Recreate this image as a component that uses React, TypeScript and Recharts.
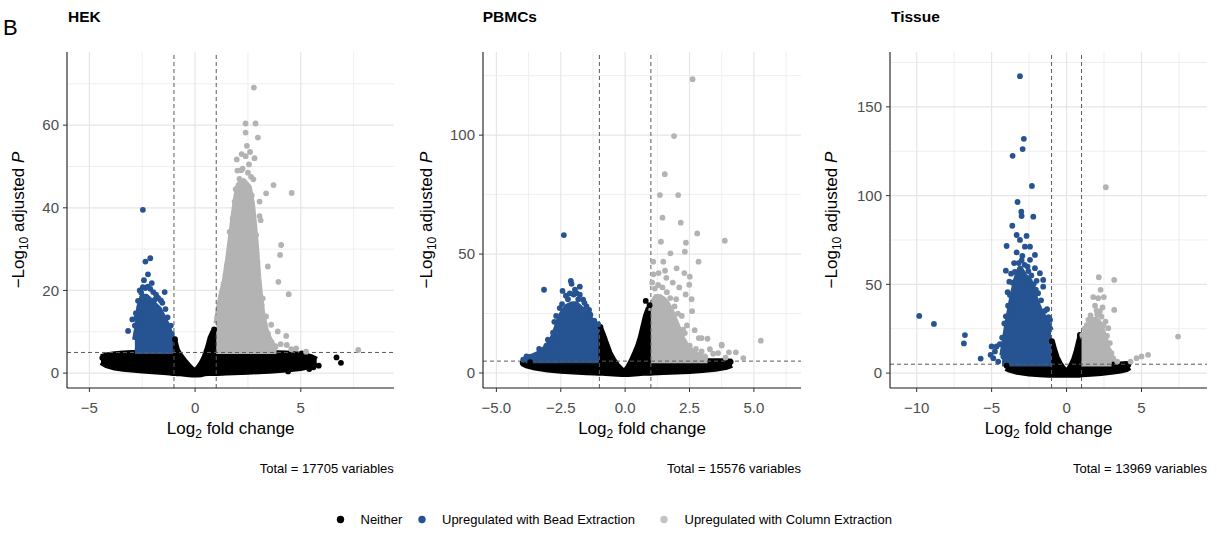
import React from 'react';
import {
  ComposedChart, XAxis, YAxis, Area, Scatter, ReferenceLine, CartesianGrid,
} from 'recharts';

const FONT = '"Liberation Sans", Arial, Helvetica, sans-serif';
const NEITHER = '#000000';
const BEAD = '#265391';
const COLUMN = '#b3b3b3';
const GRID_MAJOR = '#e6e6e6';
const GRID_MINOR = '#efefef';
const CUT = '#5a5a5a';

type Band = [number, number, number]; // log2FC, lowest, highest -log10 p of the dense cloud
type Pt = [number, number];

// ---------- HEK ----------
const hekNeitherBand: Band[] = [
  [-4.45, 2.6, 3.9], [-4.2, 1.9, 4.3], [-3.8, 1.3, 4.6], [-3.4, 1.0, 4.8],
  [-3.0, 0.8, 4.9], [-2.5, 0.6, 4.9], [-2.0, 0.4, 4.9], [-1.5, 0.2, 4.9],
  [-1.2, 0.1, 5.4], [-1.05, 0.0, 7.0], [-0.95, 0.0, 7.6], [-0.85, -0.1, 5.6],
  [-0.7, -0.1, 4.3], [-0.5, -0.2, 3.0], [-0.3, -0.3, 1.8], [-0.12, -0.4, 0.9],
  [0.0, -0.4, 0.5], [0.12, -0.4, 1.1], [0.3, -0.3, 2.4], [0.45, -0.1, 4.0],
  [0.6, 0.0, 6.2], [0.72, 0.0, 8.5], [0.85, 0.0, 10.0], [0.98, 0.0, 10.4],
  [1.06, 0.0, 5.3], [1.5, 0.1, 5.0], [2.5, 0.3, 5.0], [3.5, 0.5, 4.9],
  [4.3, 0.8, 4.8], [5.0, 1.2, 4.5], [5.5, 1.8, 3.9], [5.75, 2.4, 3.3],
];
const hekBeadBand: Band[] = [
  [-2.85, 5.3, 8], [-2.75, 5.3, 11], [-2.65, 5.3, 16], [-2.5, 5.3, 18.5],
  [-2.3, 5.3, 18.5], [-2.1, 5.3, 17.5], [-1.9, 5.3, 16.5], [-1.7, 5.3, 15.5],
  [-1.5, 5.3, 13.5], [-1.35, 5.3, 12], [-1.2, 5.3, 10], [-1.05, 5.3, 8],
];
const hekColumnBand: Band[] = [
  [1.0, 5.3, 12], [1.1, 5.3, 15], [1.2, 5.3, 18], [1.4, 5.3, 22.5],
  [1.55, 5.3, 27.5], [1.7, 5.3, 33.5], [1.85, 5.3, 39.5], [1.95, 5.3, 43],
  [2.05, 5.3, 45.5], [2.3, 5.3, 46.5], [2.55, 5.3, 45], [2.7, 5.3, 41],
  [2.8, 5.3, 36], [2.9, 5.3, 30], [3.0, 5.3, 23], [3.1, 5.3, 18],
  [3.2, 5.3, 14], [3.35, 5.3, 10.5], [3.5, 5.3, 8.5], [3.7, 5.3, 6.5],
  [3.85, 5.3, 5.6],
];
const hekNeitherPts: Pt[] = [
  [4.4, 0.4], [5.4, 1.0], [5.6, 1.4], [5.85, 1.8], [6.69, 3.8], [6.9, 2.5],
  [5.05, 4.8], [5.45, 3.7], [-4.39, 3.7], [-4.15, 3.3], [-0.95, 8.2], [0.9, 10.6],
];
const hekBeadPts: Pt[] = [
  [-2.47, 39.5], [-2.35, 27.0], [-2.12, 27.8], [-2.23, 23.9], [-3.17, 10.2],
  [-2.97, 13.0], [-2.78, 13.3], [-2.47, 20.8], [-2.36, 20.6], [-2.24, 20.9],
  [-2.12, 20.4], [-1.98, 19.6], [-1.85, 19.0], [-1.44, 19.6], [-1.62, 17.6],
  [-1.55, 17.0], [-1.75, 18.2], [-2.62, 20.0], [-2.7, 17.5], [-2.8, 14.5],
  [-2.85, 11.5], [-1.3, 13.5], [-1.15, 11.5], [-1.1, 9.5], [-1.4, 15.5],
  [-2.42, 22.5], [-2.05, 21.8], [-1.9, 17.8], [-2.55, 19.5], [-1.25, 10.5],
];
const hekColumnPts: Pt[] = [
  [2.78, 69.1], [2.39, 60.4], [2.86, 60.4], [2.39, 58.2], [2.97, 57.0],
  [1.97, 51.7], [2.39, 52.5], [2.81, 52.0], [2.18, 49.1], [2.76, 46.9],
  [3.71, 45.5], [3.36, 43.5], [4.57, 43.6], [3.05, 41.5], [1.87, 41.5],
  [3.05, 38.0], [3.1, 37.0], [1.63, 34.2], [2.89, 33.4], [2.81, 29.8],
  [4.07, 31.0], [4.02, 28.6], [3.44, 25.8], [3.94, 22.1], [4.43, 19.1],
  [3.2, 18.1], [3.05, 15.3], [3.36, 13.7], [3.6, 11.7], [3.91, 10.1],
  [4.31, 9.0], [4.34, 6.8], [4.78, 6.0], [5.25, 5.2], [7.72, 5.6],
  [2.0, 49.0], [2.25, 49.5], [2.5, 48.5], [2.65, 47.5], [2.55, 50.5],
  [2.45, 55.0], [2.6, 53.5], [2.2, 53.0], [2.1, 47.0], [1.92, 44.5],
  [2.68, 43.0], [1.78, 37.5], [2.95, 27.0], [3.0, 21.0], [1.5, 26.0],
  [1.35, 21.5], [1.15, 16.5], [1.05, 13.5], [3.15, 16.5], [3.28, 12.0],
  [3.45, 9.5], [3.62, 7.5], [4.05, 7.0], [3.8, 6.5], [4.55, 5.8],
];

// ---------- PBMCs ----------
const pbmcNeitherBand: Band[] = [
  [-4.0, 4.0, 5.0], [-3.8, 3.0, 5.0], [-3.5, 2.2, 5.0], [-3.0, 1.4, 5.0],
  [-2.5, 0.9, 5.0], [-2.0, 0.5, 5.0], [-1.5, 0.2, 5.0], [-1.2, 0.1, 6.0],
  [-1.06, 0.0, 14.0], [-0.96, 0.0, 19.0], [-0.85, 0.0, 16.0], [-0.75, -0.1, 13.0],
  [-0.6, -0.2, 8.5], [-0.45, -0.3, 5.5], [-0.3, -0.4, 3.2], [-0.12, -0.5, 1.2],
  [0.0, -0.5, 0.8], [0.12, -0.5, 2.6], [0.25, -0.4, 5.2], [0.38, -0.3, 8.4],
  [0.5, -0.2, 11.5], [0.6, -0.1, 15.0], [0.7, 0.0, 19.5], [0.8, 0.0, 24.0],
  [0.9, 0.0, 27.0], [0.99, 0.0, 27.5], [1.06, 0.1, 6.0], [1.5, 0.3, 5.0],
  [2.0, 0.5, 5.0], [2.5, 0.8, 5.0], [3.0, 1.2, 5.0], [3.5, 1.7, 5.0],
  [3.9, 2.4, 5.0], [4.15, 3.3, 4.8],
];
const pbmcBeadBand: Band[] = [
  [-3.9, 5.3, 6.3], [-3.6, 5.3, 7.0], [-3.3, 5.3, 8.5], [-3.05, 5.3, 11],
  [-2.85, 5.3, 14], [-2.7, 5.3, 18], [-2.55, 5.3, 23], [-2.4, 5.3, 26],
  [-2.25, 5.3, 28], [-2.05, 5.3, 29], [-1.9, 5.3, 29], [-1.7, 5.3, 27],
  [-1.5, 5.3, 25], [-1.3, 5.3, 22], [-1.15, 5.3, 20], [-1.03, 5.3, 18],
];
const pbmcColumnBand: Band[] = [
  [1.0, 5.3, 26], [1.08, 5.3, 30], [1.2, 5.3, 32], [1.35, 5.3, 32],
  [1.5, 5.3, 31], [1.65, 5.3, 29], [1.8, 5.3, 26], [1.95, 5.3, 22],
  [2.1, 5.3, 18], [2.25, 5.3, 14], [2.4, 5.3, 11.5], [2.55, 5.3, 9.5],
  [2.75, 5.3, 8], [3.0, 5.3, 6.5], [3.2, 5.3, 5.8],
];
const pbmcNeitherPts: Pt[] = [
  [0.8, 30.3], [-0.96, 19.4], [-3.69, 4.6], [-3.98, 4.2], [4.1, 4.7], [0.95, 28.5],
];
const pbmcBeadPts: Pt[] = [
  [-2.38, 58.0], [-3.15, 35.0], [-2.43, 34.5], [-2.11, 38.7], [-2.08, 37.5],
  [-1.76, 36.3], [-1.76, 32.9], [-1.89, 33.6], [-2.54, 27.3], [-2.22, 31.0],
  [-1.63, 30.8], [-3.34, 10.1], [-3.06, 11.5], [-3.96, 5.6], [-3.83, 7.0],
  [-2.6, 19.6], [-2.6, 16.8], [-2.65, 14.0], [-2.86, 7.7], [-3.25, 7.0],
  [-2.3, 32.5], [-2.0, 33.0], [-1.5, 28.0], [-1.35, 24.5], [-1.2, 22.0],
  [-2.75, 21.5], [-2.9, 12.5], [-3.5, 6.2], [-1.05, 20.5], [-1.95, 35.0],
  [-2.45, 29.0], [-2.15, 33.5], [-1.82, 31.0], [-1.58, 29.5], [-2.68, 24.0],
  [-2.8, 17.0], [-3.0, 14.0], [-1.4, 26.5], [-1.12, 17.5], [-3.2, 9.5],
];
const pbmcColumnPts: Pt[] = [
  [2.62, 123.5], [1.9, 99.6], [1.54, 83.6], [1.35, 74.8], [2.06, 74.8],
  [1.45, 65.3], [2.16, 63.2], [2.8, 58.7], [3.87, 55.6], [1.39, 55.2],
  [2.36, 54.8], [2.32, 51.0], [2.85, 46.8], [1.09, 46.8], [1.48, 46.8],
  [1.76, 50.3], [2.51, 40.5], [2.49, 37.1], [2.58, 31.0], [2.25, 18.2],
  [2.97, 14.7], [3.75, 11.9], [4.03, 8.7], [4.3, 8.7], [4.59, 6.3],
  [5.27, 13.6], [2.86, 14.7], [3.2, 14.4], [3.75, 11.6], [2.32, 16.8],
  [2.51, 11.5], [2.75, 10.1], [2.97, 9.1], [3.29, 10.0], [3.42, 8.1],
  [3.61, 8.4], [2.0, 44.0], [2.3, 42.0], [1.3, 42.0], [1.6, 40.0],
  [1.85, 38.0], [2.1, 36.0], [2.35, 33.0], [2.6, 26.0], [1.05, 38.0],
  [2.2, 24.0], [2.4, 20.0], [2.7, 18.0], [3.1, 7.0], [3.9, 6.5],
  [1.15, 35.5], [1.28, 37.0], [1.45, 36.0], [1.62, 34.0], [1.75, 31.5],
  [1.92, 28.0], [2.05, 25.0], [1.1, 41.5], [1.55, 43.0], [1.98, 31.0],
];

// ---------- Tissue ----------
const tissueNeitherBand: Band[] = [
  [-4.05, 2.8, 4.8], [-3.8, 1.8, 5.0], [-3.3, 0.6, 5.0], [-2.5, -0.3, 5.0],
  [-1.8, -0.8, 5.0], [-1.2, -1.0, 6.0], [-1.06, -1.0, 13.0], [-0.95, -1.0, 17.5],
  [-0.82, -1.0, 13.5], [-0.65, -1.0, 9.0], [-0.45, -1.0, 5.5], [-0.25, -1.0, 3.0],
  [-0.08, -1.0, 1.3], [0.0, -1.0, 0.9], [0.1, -1.0, 1.6], [0.3, -1.0, 4.2],
  [0.5, -1.0, 8.0], [0.65, -1.0, 12.0], [0.78, -1.0, 16.5], [0.9, -1.0, 20.5],
  [0.99, -0.8, 21.5], [1.06, -0.8, 6.0], [1.6, -0.5, 5.0], [2.3, 0.0, 5.0],
  [3.0, 0.6, 5.0], [3.6, 1.3, 5.0], [4.0, 2.1, 5.2], [4.22, 3.2, 4.8],
];
const tissueBeadBand: Band[] = [
  [-4.3, 5.3, 10], [-4.15, 5.3, 18], [-4.0, 5.3, 26], [-3.85, 5.3, 33],
  [-3.7, 5.3, 40], [-3.55, 5.3, 46], [-3.4, 5.3, 52], [-3.25, 5.3, 56],
  [-3.1, 5.3, 59], [-2.95, 5.3, 57], [-2.8, 5.3, 55], [-2.6, 5.3, 53],
  [-2.45, 5.3, 52], [-2.3, 5.3, 48], [-2.15, 5.3, 44], [-2.0, 5.3, 40],
  [-1.8, 5.3, 36], [-1.6, 5.3, 33], [-1.4, 5.3, 30], [-1.2, 5.3, 27],
  [-1.03, 5.3, 24],
];
const tissueColumnBand: Band[] = [
  [1.0, 5.3, 19], [1.15, 5.3, 21], [1.33, 5.3, 24], [1.5, 5.3, 27],
  [1.65, 5.3, 29], [1.8, 5.3, 30], [2.0, 5.3, 30], [2.2, 5.3, 28],
  [2.4, 5.3, 24], [2.6, 5.3, 19], [2.75, 5.3, 14], [2.9, 5.3, 10],
  [3.0, 5.3, 7],
];
const tissueNeitherPts: Pt[] = [
  [0.89, 21.5], [-0.98, 18.0], [4.12, 4.7], [-4.0, 4.2],
];
const tissueBeadPts: Pt[] = [
  [-3.11, 167.3], [-2.85, 132.0], [-2.93, 126.2], [-3.6, 122.4], [-2.31, 105.4],
  [-3.27, 96.4], [-3.02, 90.9], [-3.0, 88.5], [-2.22, 88.1], [-3.62, 83.0],
  [-3.33, 77.8], [-2.67, 77.3], [-4.0, 71.6], [-4.05, 57.7], [-3.82, 51.5],
  [-3.93, 45.6], [-3.49, 41.2], [-9.83, 32.2], [-8.85, 27.7], [-6.78, 21.4],
  [-6.85, 16.7], [-5.73, 8.2], [-5.0, 15.0], [-4.67, 15.0], [-4.78, 12.2],
  [-4.45, 16.3], [-4.22, 9.3], [-4.89, 8.4], [-4.56, 6.5], [-5.07, 10.3],
  [-3.11, 75.0], [-2.78, 71.2], [-2.44, 71.2], [-2.11, 66.6], [-2.44, 63.8],
  [-2.11, 59.1], [-1.78, 56.3], [-1.56, 52.5], [-1.56, 48.7], [-3.33, 68.0],
  [-2.95, 66.0], [-3.5, 62.0], [-3.7, 56.0], [-1.9, 45.0], [-1.3, 36.0],
  [-1.1, 30.0], [-4.15, 28.0], [-4.3, 20.0], [-2.6, 60.0], [-2.0, 52.0],
  [-3.2, 62.0], [-3.0, 63.5], [-2.8, 61.0], [-2.55, 57.5], [-2.35, 55.0],
  [-3.45, 57.0], [-3.62, 51.0], [-3.78, 44.0], [-2.2, 50.0], [-1.7, 41.0],
  [-1.45, 35.0], [-1.2, 31.5], [-4.05, 32.0], [-3.9, 38.0], [-2.05, 47.0],
];
const tissueColumnPts: Pt[] = [
  [2.62, 104.7], [2.15, 54.0], [3.18, 52.5], [2.27, 46.9], [1.78, 42.8],
  [2.11, 42.2], [2.49, 42.8], [3.18, 35.6], [2.0, 35.2], [2.22, 34.7],
  [2.78, 25.3], [7.44, 20.6], [5.44, 10.3], [5.0, 9.4], [4.67, 8.4],
  [4.27, 6.5], [3.38, 6.5], [1.78, 30.0], [2.33, 31.8], [2.89, 16.9],
  [3.0, 11.3], [3.11, 8.4], [1.9, 38.0], [2.4, 37.0], [2.6, 29.0],
  [1.45, 30.0], [1.2, 25.0], [2.7, 21.0], [1.6, 32.5], [2.05, 33.0],
  [2.45, 27.0], [1.05, 21.5], [1.35, 27.0], [2.85, 12.5],
];

// ---------- axes ----------
const hekXTicks = [-5, 0, 5];
const hekXMinor = [-2.5, 2.5, 7.5];
const hekYTicks = [0, 20, 40, 60];
const hekYMinor = [10, 30, 50, 70];

const pbmcXTicks = [-5, -2.5, 0, 2.5, 5];
const pbmcXMinor = [-3.75, -1.25, 1.25, 3.75, 6.25];
const pbmcYTicks = [0, 50, 100];
const pbmcYMinor = [25, 75, 125];

const tissueXTicks = [-10, -5, 0, 5];
const tissueXMinor = [-7.5, -2.5, 2.5, 7.5];
const tissueYTicks = [0, 50, 100, 150];
const tissueYMinor = [25, 75, 125, 175];

const fcCutoffs = [-1, 1];
const pCutoff = 5;

const fmtInt = (v: number) => (v < 0 ? `\u2212${Math.abs(v)}` : `${v}`);
const fmtOne = (v: number) => (v < 0 ? `\u2212${Math.abs(v).toFixed(1)}` : v.toFixed(1));

const toBand = (rows: Band[]) => rows.map(([x, lo, hi]) => ({ x, band: [lo, hi] }));
const toPts = (rows: Pt[]) => rows.map(([x, y]) => ({ x, y }));

const dot = (color: string) => (p: any) => (
  <circle cx={p.cx} cy={p.cy} r={2.9} fill={color} />
);

interface PanelSpec {
  left: number;
  width: number;
  yAxisWidth: number;
  marginRight: number;
  xDomain: [number, number];
  yDomain: [number, number];
  xTicks: number[];
  xMinor: number[];
  yTicks: number[];
  yMinor: number[];
  fmtX: (v: number) => string;
  neitherBand: Band[];
  beadBand: Band[];
  columnBand: Band[];
  neitherPts: Pt[];
  beadPts: Pt[];
  columnPts: Pt[];
}

const panels: PanelSpec[] = [
  {
    left: 0, width: 400, yAxisWidth: 67, marginRight: 6,
    xDomain: [-6.06, 9.41], yDomain: [-3.6, 77.7],
    xTicks: hekXTicks, xMinor: hekXMinor, yTicks: hekYTicks, yMinor: hekYMinor,
    fmtX: fmtInt,
    neitherBand: hekNeitherBand, beadBand: hekBeadBand, columnBand: hekColumnBand,
    neitherPts: hekNeitherPts, beadPts: hekBeadPts, columnPts: hekColumnPts,
  },
  {
    left: 410, width: 395, yAxisWidth: 73, marginRight: 4,
    xDomain: [-5.52, 6.83], yDomain: [-6.3, 134.95],
    xTicks: pbmcXTicks, xMinor: pbmcXMinor, yTicks: pbmcYTicks, yMinor: pbmcYMinor,
    fmtX: fmtOne,
    neitherBand: pbmcNeitherBand, beadBand: pbmcBeadBand, columnBand: pbmcColumnBand,
    neitherPts: pbmcNeitherPts, beadPts: pbmcBeadPts, columnPts: pbmcColumnPts,
  },
  {
    left: 810, width: 400, yAxisWidth: 80, marginRight: 3,
    xDomain: [-11.78, 9.37], yDomain: [-8.4, 180.9],
    xTicks: tissueXTicks, xMinor: tissueXMinor, yTicks: tissueYTicks, yMinor: tissueYMinor,
    fmtX: fmtInt,
    neitherBand: tissueNeitherBand, beadBand: tissueBeadBand, columnBand: tissueColumnBand,
    neitherPts: tissueNeitherPts, beadPts: tissueBeadPts, columnPts: tissueColumnPts,
  },
];

const cloud = (rows: Band[], color: string, key: string) => (
  <Area
    key={key}
    data={toBand(rows)}
    dataKey="band"
    type="linear"
    fill={color}
    fillOpacity={1}
    stroke={color}
    strokeWidth={5.6}
    strokeLinejoin="round"
    dot={false}
    activeDot={false}
    isAnimationActive={false}
  />
);

function VolcanoPanel({ spec }: { spec: PanelSpec }) {
  const axisTick = { fill: '#4d4d4d', fontSize: 15, fontFamily: FONT };
  return (
    <div style={{ position: 'absolute', left: spec.left, top: 0 }}>
      <ComposedChart
        width={spec.width}
        height={420}
        margin={{ top: 52, right: spec.marginRight, bottom: 0, left: 0 }}
      >
        {/* minor grid first, major grid on top of it, both below the points */}
        <CartesianGrid
          horizontalValues={spec.yMinor}
          verticalValues={spec.xMinor}
          stroke={GRID_MINOR}
          strokeWidth={1}
        />
        <CartesianGrid
          horizontalValues={spec.yTicks}
          verticalValues={spec.xTicks}
          stroke={GRID_MAJOR}
          strokeWidth={1.2}
        />
        <XAxis
          type="number"
          dataKey="x"
          domain={spec.xDomain}
          ticks={spec.xTicks}
          interval={0}
          allowDataOverflow
          tickFormatter={spec.fmtX}
          tick={axisTick}
          tickSize={4}
          tickMargin={10}
          height={32}
          axisLine={{ stroke: '#1a1a1a', strokeWidth: 1.1 }}
          tickLine={{ stroke: '#333333' }}
        />
        <YAxis
          type="number"
          domain={spec.yDomain}
          ticks={spec.yTicks}
          interval={0}
          allowDataOverflow
          tick={axisTick}
          tickSize={4}
          tickMargin={4}
          width={spec.yAxisWidth}
          axisLine={{ stroke: '#1a1a1a', strokeWidth: 1.1 }}
          tickLine={{ stroke: '#333333' }}
        />

        {cloud(spec.neitherBand, NEITHER, 'nb')}
        <Scatter data={toPts(spec.neitherPts)} dataKey="y" shape={dot(NEITHER)} isAnimationActive={false} />
        {cloud(spec.beadBand, BEAD, 'bb')}
        <Scatter data={toPts(spec.beadPts)} dataKey="y" shape={dot(BEAD)} isAnimationActive={false} />
        {cloud(spec.columnBand, COLUMN, 'cb')}
        <Scatter data={toPts(spec.columnPts)} dataKey="y" shape={dot(COLUMN)} isAnimationActive={false} />

        {fcCutoffs.map((v) => (
          <ReferenceLine key={`fc${v}`} x={v} stroke={CUT} strokeWidth={1} strokeDasharray="4 3" />
        ))}
        <ReferenceLine y={pCutoff} stroke={CUT} strokeWidth={1} strokeDasharray="4 3" />
      </ComposedChart>
    </div>
  );
}

const titles = [
  { text: 'HEK', x: 68 },
  { text: 'PBMCs', x: 482.7 },
  { text: 'Tissue', x: 891 },
];
const xTitleCenters = [230.7, 642, 1048.6];
const yTitleCenters = [17.5, 426, 831];
const captions = [
  { text: 'Total = 17705 variables', x: 393.8 },
  { text: 'Total = 15576 variables', x: 801 },
  { text: 'Total = 13969 variables', x: 1207 },
];
const legendItems = [
  { label: 'Neither', color: NEITHER, cx: 340.5, tx: 360.5 },
  { label: 'Upregulated with Bead Extraction', color: BEAD, cx: 422, tx: 442 },
  { label: 'Upregulated with Column Extraction', color: '#c4c4c4', cx: 664, tx: 684.5 },
];

export default function App() {
  return (
    <div
      style={{
        position: 'absolute', left: 0, top: 0, width: 1217, height: 538,
        background: '#ffffff', fontFamily: FONT, overflow: 'hidden',
      }}
    >
      {panels.map((p, i) => (
        <VolcanoPanel key={i} spec={p} />
      ))}
      <svg
        width={1217}
        height={538}
        style={{ position: 'absolute', left: 0, top: 0, pointerEvents: 'none' }}
        fontFamily={FONT}
      >
        <text x={3} y={35} fontSize={22} fill="#000">B</text>
        {titles.map((t) => (
          <text key={t.text} x={t.x} y={22} fontSize={15.5} fontWeight="bold" fill="#000">
            {t.text}
          </text>
        ))}
        {xTitleCenters.map((cx, i) => (
          <text key={`xt${i}`} x={cx} y={433.5} fontSize={17} fill="#000" textAnchor="middle">
            Log<tspan fontSize={12} dy={4}>2</tspan>
            <tspan dy={-4}> fold change</tspan>
          </text>
        ))}
        {yTitleCenters.map((cx, i) => (
          <text
            key={`yt${i}`}
            x={cx}
            y={220 + 6}
            fontSize={17}
            fill="#000"
            textAnchor="middle"
            transform={`rotate(-90 ${cx} 220)`}
          >
            {'\u2212Log'}<tspan fontSize={12} dy={4}>10</tspan>
            <tspan dy={-4}> adjusted </tspan>
            <tspan fontStyle="italic">P</tspan>
          </text>
        ))}
        {captions.map((c) => (
          <text key={c.text} x={c.x} y={473} fontSize={13} fill="#000" textAnchor="end">
            {c.text}
          </text>
        ))}
        {legendItems.map((l) => (
          <g key={l.label}>
            <circle cx={l.cx} cy={519.5} r={3.7} fill={l.color} />
            <text x={l.tx} y={523.5} fontSize={13} fill="#000">{l.label}</text>
          </g>
        ))}
      </svg>
    </div>
  );
}
